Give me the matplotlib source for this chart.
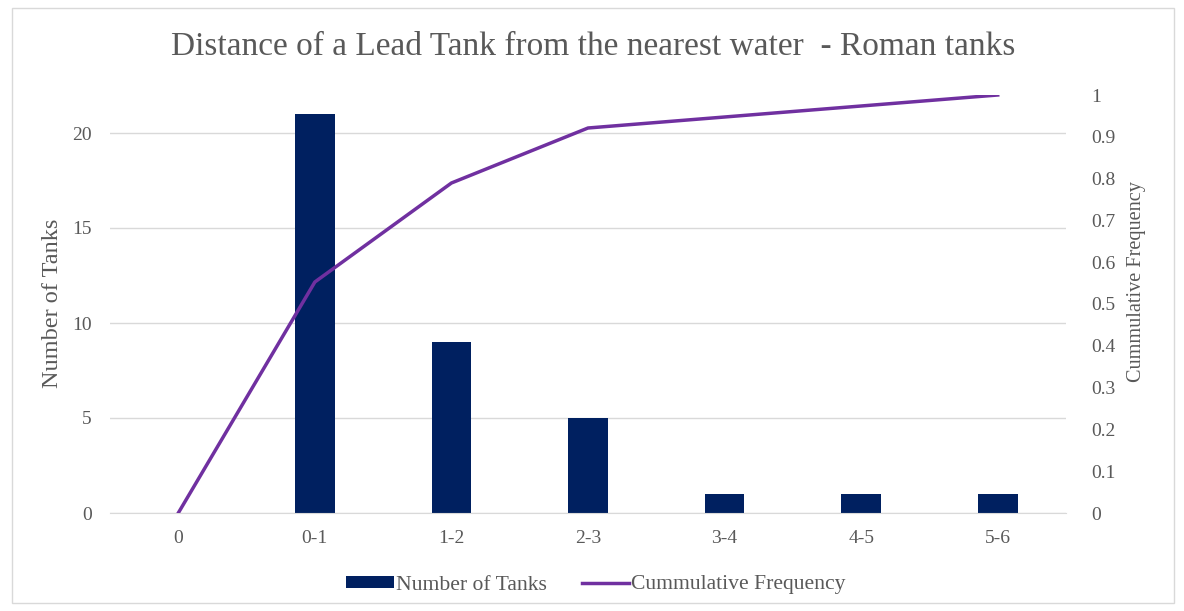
import matplotlib.pyplot as plt
from matplotlib.patches import Rectangle
import numpy as np

plt.rcParams['font.family'] = ['Liberation Serif', 'DejaVu Serif']

categories = ["0", "0-1", "1-2", "2-3", "3-4", "4-5", "5-6"]
tanks = [0, 21, 9, 5, 1, 1, 1]
cumulative = np.cumsum(tanks) / sum(tanks)

W, H = 1184, 611
text_col = "#595959"
bar_col = "#002060"
line_col = "#7030A0"

fig = plt.figure(figsize=(W / 100, H / 100), dpi=100)
ax = fig.add_axes([110 / W, 1 - 513 / H, (1066 - 110) / W, (513 - 95) / H])
x = np.arange(len(categories))

bars = ax.bar(x, tanks, width=0.29, color=bar_col, label="Number of Tanks", zorder=2)
ax.set_xlim(-0.5, len(categories) - 0.5)
ax.set_ylim(0, 22)
ax.set_yticks([0, 5, 10, 15, 20])
ax.set_xticks(x)
ax.set_xticklabels(categories)
ax.grid(axis='y', color="#d9d9d9", linewidth=1, zorder=0)
for s in ax.spines.values():
    s.set_visible(False)
ax.spines['bottom'].set_visible(True)
ax.spines['bottom'].set_color("#d9d9d9")
ax.tick_params(length=0, labelsize=14, colors=text_col)
ax.tick_params(axis='x', pad=12)
ax.tick_params(axis='y', pad=13)

ax2 = ax.twinx()
line, = ax2.plot(x, cumulative, color=line_col, linewidth=2.5, label="Cummulative Frequency", zorder=3)
ax2.set_ylim(0, 1)
ax2.set_yticks(np.round(np.arange(0, 1.01, 0.1), 1))
ax2.set_yticklabels(["0"] + [f"{v:.1f}" for v in np.arange(0.1, 0.95, 0.1)] + ["1"])
for s in ax2.spines.values():
    s.set_visible(False)
ax2.tick_params(length=0, labelsize=14, colors=text_col, pad=18)

# axis titles placed by hand
fig.text(53 / W, 1 - 303 / H, "Number of Tanks", rotation=90, ha='center', va='center',
         fontsize=17.5, color=text_col)
fig.text(1137 / W, 1 - 282 / H, "Cummulative Frequency", rotation=90, ha='center', va='center',
         fontsize=14.6, color=text_col)

fig.text(593 / W, 1 - 47 / H, "Distance of a Lead Tank from the nearest water  - Roman tanks",
         fontsize=24, color=text_col, ha='center', va='center')

fig.legend(handles=[bars, line], loc='center', bbox_to_anchor=(596 / W, 1 - 585 / H),
           ncol=2, frameon=False, fontsize=15.6, labelcolor=text_col,
           handlelength=2.2, handleheight=0.5, handletextpad=0.1, columnspacing=1.6)

fig.patches.append(Rectangle((12 / W, 1 - 603 / H), 1162 / W, 595 / H,
                             transform=fig.transFigure, fill=False,
                             edgecolor="#d9d9d9", linewidth=1))

fig.savefig("out.png", dpi=100)
